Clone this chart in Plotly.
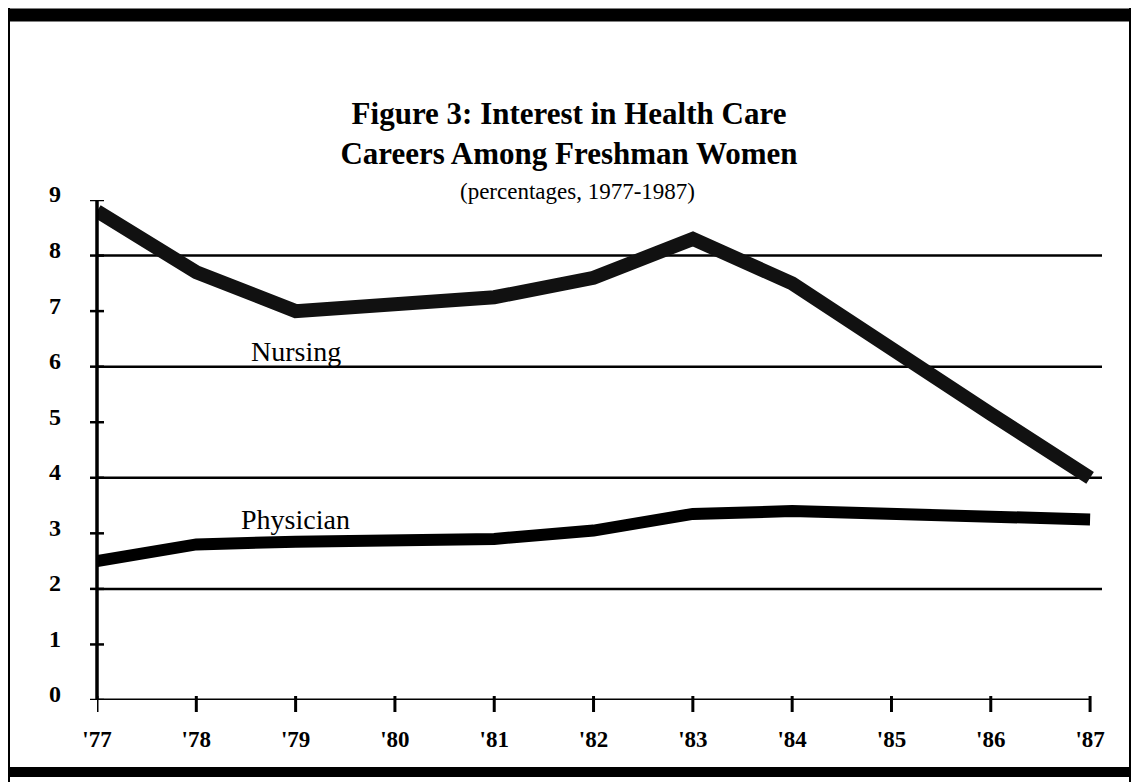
import plotly.graph_objects as go

years = [1977, 1978, 1979, 1980, 1981, 1982, 1983, 1984, 1985, 1986, 1987]
year_labels = ["'77", "'78", "'79", "'80", "'81", "'82", "'83", "'84", "'85", "'86", "'87"]
nursing = [8.8, 7.7, 7.0, 7.15, 7.25, 7.6, 8.3, 7.5, 6.3, 5.15, 4.0]
physician = [2.5, 2.8, 2.85, 2.9, 2.9, 3.05, 3.35, 3.4, 3.35, 3.3, 3.25]
y_ticks = [0, 1, 2, 3, 4, 5, 6, 7, 8, 9]
grid_levels = [2, 4, 6, 8]

FONT = "Liberation Serif"
OFF = 8  # page body margin
PAGE_W, PAGE_H = 1139, 782
W, H = PAGE_W - OFF, PAGE_H - OFF
L, R, T, B = 97 - OFF, 37, 200 - OFF, 82
pw, ph = W - L - R, H - T - B

fig = go.Figure()
fig.add_trace(go.Scatter(x=years, y=nursing, mode="lines",
                         line=dict(color="#111", width=14), name="Nursing",
                         showlegend=False))
fig.add_trace(go.Scatter(x=years, y=physician, mode="lines",
                         line=dict(color="#000", width=12), name="Physician",
                         showlegend=False))

shapes = []
for g in grid_levels:
    shapes.append(dict(type="line", xref="paper", yref="y", x0=0, x1=1, y0=g, y1=g,
                       line=dict(color="black", width=2.5), layer="below"))
shapes.append(dict(type="line", xref="x", yref="y", x0=years[0], x1=years[-1], y0=0, y1=0,
                   line=dict(color="black", width=3)))
shapes.append(dict(type="line", xref="paper", yref="y", x0=0, x1=0, y0=0, y1=y_ticks[-1],
                   line=dict(color="black", width=3.5)))
for v in y_ticks:
    shapes.append(dict(type="line", xref="paper", yref="y", x0=-7 / pw, x1=7 / pw, y0=v, y1=v,
                       line=dict(color="black", width=2.5)))
for v in years:
    shapes.append(dict(type="line", xref="x", yref="paper", x0=v, x1=v, y0=-12 / ph, y1=4 / ph,
                       line=dict(color="black", width=3)))


def px_x(p):  # page pixel -> paper fraction
    return (p - OFF - L) / pw


def px_y(p):
    return (H - B - (p - OFF)) / ph


shapes.append(dict(type="line", xref="paper", yref="paper", x0=px_x(0), x1=px_x(PAGE_W),
                   y0=px_y(15), y1=px_y(15), line=dict(color="black", width=13)))
shapes.append(dict(type="line", xref="paper", yref="paper", x0=px_x(0), x1=px_x(PAGE_W),
                   y0=px_y(772), y1=px_y(772), line=dict(color="black", width=10)))
shapes.append(dict(type="line", xref="paper", yref="paper", x0=px_x(7), x1=px_x(7),
                   y0=px_y(0), y1=px_y(PAGE_H), line=dict(color="black", width=6)))
shapes.append(dict(type="line", xref="paper", yref="paper", x0=px_x(1131), x1=px_x(1131),
                   y0=px_y(0), y1=px_y(PAGE_H), line=dict(color="black", width=4)))

annotations = [
    dict(text="(percentages, 1977-1987)", xref="paper", yref="paper",
         x=px_x(577), y=px_y(191), showarrow=False, xanchor="center", yanchor="middle",
         font=dict(family=FONT, size=23, color="black")),
    dict(text="Nursing", xref="x", yref="y", x=1979.0, y=6.27, showarrow=False,
         xanchor="center", yanchor="middle", font=dict(family=FONT, size=28, color="black")),
    dict(text="Physician", xref="x", yref="y", x=1979.0, y=3.25, showarrow=False,
         xanchor="center", yanchor="middle", font=dict(family=FONT, size=28, color="black")),
]

fig.update_layout(
    width=W, height=H,
    margin=dict(l=L, r=R, t=T, b=B, pad=0),
    paper_bgcolor="white", plot_bgcolor="white",
    title=dict(text="<b>Figure 3: Interest in Health Care<br>Careers Among Freshman Women</b>",
               x=(569 - OFF) / W, xref="container", xanchor="center",
               y=1 - 116 / H, yref="container", yanchor="top",
               font=dict(family=FONT, size=31, color="black")),
    xaxis=dict(range=[years[0], years[-1] + 0.12], tickvals=years, ticktext=year_labels,
               showgrid=False, zeroline=False, showline=False, ticks="",
               tickfont=dict(family=FONT, size=23, color="black", weight="bold"),
               ticklabelstandoff=23),
    yaxis=dict(range=[0, y_ticks[-1]], tickvals=y_ticks, ticktext=[str(v) for v in y_ticks],
               showgrid=False, zeroline=False, showline=False, ticks="",
               tickfont=dict(family=FONT, size=24, color="black", weight="bold"),
               ticklabelstandoff=35, ticklabelshift=-6),
    shapes=shapes,
    annotations=annotations,
    font=dict(family=FONT, color="black"),
)

fig.write_html("out.html")
